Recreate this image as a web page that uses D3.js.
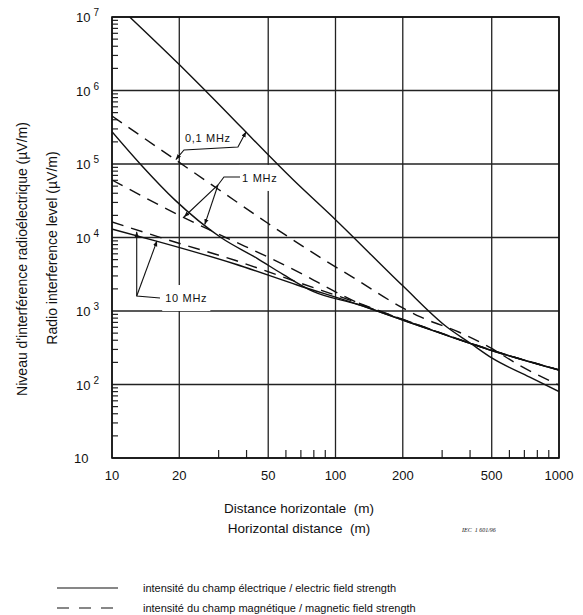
<!DOCTYPE html>
<html>
<head>
<meta charset="utf-8">
<script src="https://cdnjs.cloudflare.com/ajax/libs/d3/7.8.5/d3.min.js"></script>
<style>
  body { margin: 0; background: #fff; }
  text { font-family: "Liberation Sans", Arial, sans-serif; fill: #111; white-space: pre; }
</style>
</head>
<body>
<svg id="chart" width="583" height="615"></svg>
<script>
// distance (m), level (uV/m)
var e01 = [[12,1e7],[20,2.25e6],[26.6,9.5e5],[65,6e4],[100,1.75e4],[200,2200],[315,605],[400,367],[500,230],[740,126],[1000,80]];
var h01 = [[10,4.5e5],[20,1.05e5],[30,4.5e4],[50,1.55e4],[82,5800],[125,2640],[200,1100],[240,830],[360,510],[490,320],[670,180],[1000,98]];
var e1 = [[10,2.75e5],[13.5,9.7e4],[19.1,3.25e4],[30.7,1.0e4],[44.6,5200],[58.2,3150],[79.3,1850],[125,1235],[200,755],[491,295],[1000,157]];
var h1 = [[10,6.05e4],[21.2,1.84e4],[32.7,9840],[50.9,5260],[76.9,2810],[91.6,2100],[125,1300],[200,770],[491,298],[1000,158]];
var e10 = [[10,1.3e4],[16.1,8800],[35.5,4360],[67.3,2260],[125,1240],[200,755],[491,295],[1000,157]];
var h10 = [[10,1.63e4],[19.1,8690],[35.5,4900],[67.3,2480],[125,1300],[200,770],[491,298],[1000,158]];

var xTicks = [10, 20, 50, 100, 200, 500, 1000];
var yExp = [1, 2, 3, 4, 5, 6, 7];
var freqNames = ["0,1 MHz", "1 MHz", "10 MHz"];
var legendNames = ["intensité du champ électrique / electric field strength",
                   "intensité du champ magnétique / magnetic field strength"];

var svg = d3.select("#chart");
var x = d3.scaleLog().domain([10, 1000]).range([112, 559]);
var y = d3.scaleLog().domain([10, 1e7]).range([458, 17]);

svg.append("rect").attr("width", 583).attr("height", 615).attr("fill", "#fff");
var defs = svg.append("defs");

// minor ticks
var g = svg.append("g");
for (var dec = 10; dec < 1000; dec *= 10) {
	for (var m = 2; m <= 9; m++) {
		if (m == 2 || m == 5) continue;
		g.append("line").attr("x1", x(dec*m)).attr("x2", x(dec*m))
			.attr("y1", 458).attr("y2", 450).attr("stroke", "#222").attr("stroke-width", 1.2);
	}
}
for (var k = 1; k < 7; k++) {
	for (var m = 2; m <= 9; m++) {
		var v = Math.pow(10, k) * m;
		g.append("line").attr("x1", 112).attr("x2", 118)
			.attr("y1", y(v)).attr("y2", y(v)).attr("stroke", "#222").attr("stroke-width", 1.2);
	}
}

// grid
xTicks.forEach(function(t) {
	g.append("line").attr("x1", x(t)).attr("x2", x(t)).attr("y1", 17).attr("y2", 458)
		.attr("stroke", "#222").attr("stroke-width", 1.3);
});
yExp.forEach(function(k) {
	g.append("line").attr("x1", 112).attr("x2", 559).attr("y1", y(Math.pow(10,k))).attr("y2", y(Math.pow(10,k)))
		.attr("stroke", "#222").attr("stroke-width", 1.3);
});
svg.append("rect").attr("x", 112).attr("y", 17).attr("width", 447).attr("height", 441)
	.attr("fill", "none").attr("stroke", "#111").attr("stroke-width", 1.6);

// tick labels
xTicks.forEach(function(t) {
	svg.append("text").attr("x", x(t)).attr("y", 480).attr("text-anchor", "middle")
		.attr("font-size", 13).text(t);
});
yExp.forEach(function(k) {
	var t = svg.append("text").attr("x", k == 1 ? 74 : 76).attr("y", y(Math.pow(10,k)) + 5).attr("font-size", 13);
	t.append("tspan").text("10");
	if (k > 1) t.append("tspan").attr("dx", 3).attr("dy", -6).attr("font-size", 10).text(k);
});

// axis titles
svg.append("text").attr("x", 299).attr("y", 513).attr("text-anchor", "middle").attr("font-size", 13.5).text("Distance horizontale  (m)");
svg.append("text").attr("x", 299).attr("y", 533).attr("text-anchor", "middle").attr("font-size", 13.5).text("Horizontal distance  (m)");
svg.append("text").attr("transform", "translate(27,259) rotate(-90)").attr("text-anchor", "middle").attr("font-size", 14)
	.text("Niveau d'interférence radioélectrique (µV/m)");
svg.append("text").attr("transform", "translate(57,248) rotate(-90)").attr("text-anchor", "middle").attr("font-size", 14)
	.text("Radio interference level (µV/m)");
svg.append("text").attr("x", 462).attr("y", 532).attr("font-size", 6).attr("font-style", "italic")
	.style("font-family", "'Liberation Serif', serif").text("IEC  1 601/96");

// labels with white gap behind
var labels = [
	{ name: freqNames[0], at: [21.2, 1.99e5] },
	{ name: freqNames[1], at: [38.2, 5.7e4] },
	{ name: freqNames[2], at: [17.3, 1325] }
];
var labG = svg.append("g");
labels.forEach(function(l, i) {
	var t = labG.append("text").attr("x", x(l.at[0])).attr("y", y(l.at[1])).attr("font-size", 11)
		.attr("letter-spacing", 0.7).text(l.name);
	if (i > 0) {
		var b = t.node().getBBox();
		labG.insert("rect", "text").attr("x", b.x - 3).attr("y", b.y - 7).attr("width", b.width + 6)
			.attr("height", b.height + 14).attr("fill", "#fff");
	}
});

// curves
defs.append("clipPath").attr("id", "clip").append("rect").attr("x", 112).attr("y", 17).attr("width", 447).attr("height", 441);
var line = d3.line().x(function(d){ return x(d[0]); }).y(function(d){ return y(d[1]); }).curve(d3.curveMonotoneX);
var curves = [[e01, false], [h01, true], [e1, false], [h1, true], [e10, false], [h10, true]];
var cg = svg.append("g").attr("clip-path", "url(#clip)");
curves.forEach(function(c) {
	cg.append("path").attr("d", line(c[0])).attr("fill", "none").attr("stroke", "#111")
		.attr("stroke-width", 1.4).attr("stroke-dasharray", c[1] ? "12,8" : null);
});

// leaders
defs.append("marker").attr("id", "arr").attr("viewBox", "0 0 10 10")
	.attr("refX", 10).attr("refY", 5).attr("markerWidth", 5).attr("markerHeight", 5).attr("orient", "auto")
	.append("path").attr("d", "M0,1 L10,5 L0,9 z").attr("fill", "#111");
defs.append("marker").attr("id", "arrs").attr("viewBox", "0 0 10 10")
	.attr("refX", 0).attr("refY", 5).attr("markerWidth", 5).attr("markerHeight", 5).attr("orient", "auto")
	.append("path").attr("d", "M10,1 L0,5 L10,9 z").attr("fill", "#111");
var leaders = [
	[[19.3, 1.15e5], [21.0, 1.55e5], [36.6, 1.7e5], [39.8, 2.75e5]],
	[[37.4, 6.65e4], [31.7, 6.65e4], [29.8, 5.18e4], [21, 1.9e4]],
	[[29.8, 5.18e4], [26, 1.5e4]],
	[[16.4, 1500], [12.9, 1600], [12.9, 1.2e4]],
	[[12.9, 1600], [15.9, 9000]]
];
var lineLin = d3.line().x(function(d){ return x(d[0]); }).y(function(d){ return y(d[1]); });
leaders.forEach(function(p, i) {
	var path = svg.append("path").attr("d", lineLin(p)).attr("fill", "none").attr("stroke", "#111")
		.attr("stroke-width", 1.1).attr("marker-end", "url(#arr)");
	if (i == 0) path.attr("marker-start", "url(#arrs)");
});

// legend
legendNames.forEach(function(n, i) {
	var ly = 588 + i * 20;
	svg.append("line").attr("x1", 57).attr("x2", 118).attr("y1", ly).attr("y2", ly)
		.attr("stroke", "#111").attr("stroke-width", 1.2).attr("stroke-dasharray", i ? "12,10" : null);
	svg.append("text").attr("x", 143).attr("y", ly + 4).attr("font-size", 11).text(n);
});
</script>
</body>
</html>
